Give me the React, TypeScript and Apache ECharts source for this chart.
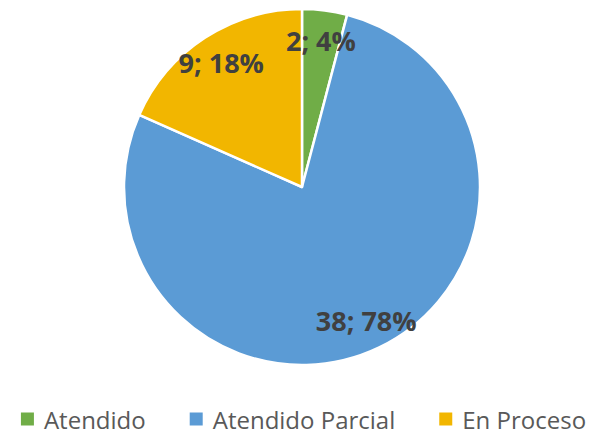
import React, { useEffect, useRef } from "react";
import * as echarts from "echarts";

const categories = ["Atendido", "Atendido Parcial", "En Proceso"];
const values = [2, 38, 9];
const colors = ["#70AD47", "#5B9BD5", "#F2B600"];

export default function App() {
  const ref = useRef<HTMLDivElement>(null);
  useEffect(() => {
    const chart = echarts.init(ref.current!, null, { renderer: "svg" });
    const total = values.reduce((a, b) => a + b, 0);
    const data = categories.map((name, i) => ({
      name,
      value: values[i],
      itemStyle: { color: colors[i] },
    }));
    chart.setOption({
      animation: false,
      legend: {
        top: 398,
        left: "center",
        padding: 0,
        itemWidth: 15,
        itemHeight: 15,
        itemGap: 42,
        icon: "rect",
        textStyle: {
          fontFamily: "Open Sans",
          fontSize: 24,
          lineHeight: 26,
          color: "#595959",
          padding: [0, 0, 0, 4],
        },
        data: categories,
      },
      series: [
        {
          type: "pie",
          center: [294, 179],
          radius: [0, 178],
          startAngle: 90,
          clockwise: true,
          data,
          label: { show: false },
          labelLine: { show: false },
          itemStyle: { borderColor: "#ffffff", borderWidth: 2.5 },
          emphasis: { disabled: true },
        },
        {
          type: "pie",
          center: [294, 179],
          radius: [112, 178],
          startAngle: 90,
          clockwise: true,
          data: data.map((d) => ({ ...d, itemStyle: { color: "rgba(0,0,0,0)" } })),
          label: {
            show: true,
            position: "inside",
            formatter: (p: any) => `${p.value}; ${Math.round((p.value / total) * 100)}%`,
            fontFamily: "Open Sans",
            fontWeight: "bold",
            fontSize: 27,
            color: "#404040",
          },
          labelLine: { show: false },
          emphasis: { disabled: true },
          silent: true,
        },
      ],
    });
    return () => chart.dispose();
  }, []);
  return <div ref={ref} style={{ width: 589, height: 426 }} />;
}
